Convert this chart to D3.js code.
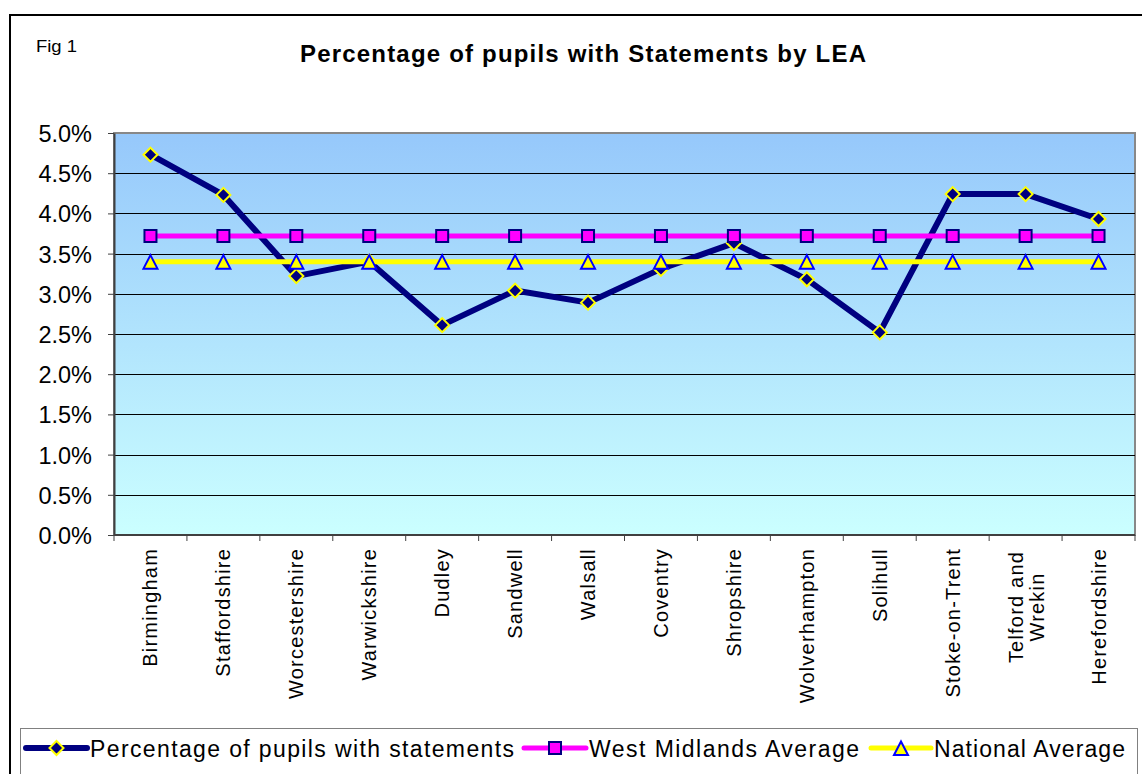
<!DOCTYPE html>
<html><head><meta charset="utf-8">
<script src="https://cdn.jsdelivr.net/npm/d3@7"></script>
<style>body{margin:0;background:#fff}svg{display:block;font-family:"Liberation Sans",Arial,sans-serif}</style>
</head><body><svg id="c" width="1142" height="774"></svg>
<script>
const categories = ["Birmingham","Staffordshire","Worcestershire","Warwickshire","Dudley","Sandwell","Walsall","Coventry","Shropshire","Wolverhampton","Solihull","Stoke-on-Trent","Telford and\nWrekin","Herefordshire"];
const pupilsPct = [4.73,4.23,3.22,3.40,2.61,3.04,2.89,3.31,3.63,3.18,2.52,4.24,4.24,3.93];
const westMidlandsAvg = [3.72,3.72,3.72,3.72,3.72,3.72,3.72,3.72,3.72,3.72,3.72,3.72,3.72,3.72];
const nationalAvg = [3.40,3.40,3.40,3.40,3.40,3.40,3.40,3.40,3.40,3.40,3.40,3.40,3.40,3.40];
const yTicks = [0,0.5,1,1.5,2,2.5,3,3.5,4,4.5,5];
const seriesNames = ["Percentage of pupils with statements","West Midlands Average","National Average"];

const svg = d3.select("#c");
const L=114, T=133, R=1135, B=535;
const x = d3.scalePoint().domain(categories).range([L,R]).padding(0.5);
const xb = d3.scaleBand().domain(categories).range([L,R]);
const y = d3.scaleLinear().domain([0,5]).range([B,T]);

// outer border
svg.append("rect").attr("x",10).attr("y",15).attr("width",1140).attr("height",770).attr("fill","#fff").attr("stroke","#000").attr("stroke-width",2);

const defs = svg.append("defs");
const g = defs.append("linearGradient").attr("id","bg").attr("x1",0).attr("y1",0).attr("x2",0).attr("y2",1);
g.append("stop").attr("offset",0).attr("stop-color","#96c8fb");
g.append("stop").attr("offset",1).attr("stop-color","#cbffff");
svg.append("rect").attr("x",L).attr("y",T).attr("width",R-L).attr("height",B-T).attr("fill","url(#bg)").attr("stroke","#888").attr("stroke-width",2);

// gridlines
svg.append("g").selectAll("line").data(yTicks.filter(d=>d>0&&d<5)).join("line")
  .attr("x1",L).attr("x2",R).attr("y1",d=>Math.round(y(d))+0.5).attr("y2",d=>Math.round(y(d))+0.5)
  .attr("stroke","#000").attr("stroke-width",1);

// y axis
const ya = svg.append("g").attr("transform",`translate(${L},0)`)
  .call(d3.axisLeft(y).tickValues(yTicks).tickFormat(d=>d.toFixed(1)+"%").tickSize(6).tickSizeOuter(0).tickPadding(16));
ya.attr("font-size",null).attr("font-family",null);
ya.select(".domain").attr("stroke","#404040").attr("stroke-width",2);
ya.selectAll(".tick line").attr("stroke","#404040");
ya.selectAll("text").style("font-size","23.5px").attr("fill","#000").attr("dy","0.36em");

// x axis
const xa = svg.append("g").attr("transform",`translate(0,${B})`);
xa.append("line").attr("x1",L).attr("x2",R).attr("y1",0).attr("y2",0).attr("stroke","#404040").attr("stroke-width",2);
const bounds = categories.map(c=>xb(c)).concat([R]);
xa.selectAll("line.tk").data(bounds).join("line").attr("class","tk")
  .attr("x1",d=>d).attr("x2",d=>d).attr("y1",0).attr("y2",6).attr("stroke","#404040");
categories.forEach(c=>{
  const lines = c.split("\n");
  const n=lines.length;
  const t = xa.append("text").style("font-size","20px").style("letter-spacing","1.2px").attr("fill","#000");
  if(n===1){
    t.attr("transform",`translate(${x(c)},13) rotate(-90)`).attr("text-anchor","end");
    t.append("tspan").attr("x",0).attr("dy","7px").text(lines[0]);
  } else {
    t.attr("transform",`translate(${x(c)},13) rotate(-90)`).attr("text-anchor","middle");
    lines.forEach((ln,i)=>{
      t.append("tspan").attr("x",-59).attr("dy", i===0 ? "-3px" : "21px").text(ln);
    });
  }
});

// series
const line = d3.line().x((d,i)=>x(categories[i])).y(d=>y(d));
function diamond(sel){ sel.attr("d","M0,-7L7,0L0,7L-7,0Z").attr("fill","#000080").attr("stroke","#ffff00").attr("stroke-width",2); }
function square(sel){ sel.attr("d","M-6,-6H6V6H-6Z").attr("fill","#ff00ff").attr("stroke","#000080").attr("stroke-width",2); }
function tri(sel){ sel.attr("d","M0,-7.5L7,6H-7Z").attr("fill","#ffff00").attr("stroke","#0000ff").attr("stroke-width",2); }

svg.append("path").datum(pupilsPct).attr("d",line).attr("fill","none").attr("stroke","#000080").attr("stroke-width",6).attr("stroke-linejoin","round");
svg.append("g").selectAll("path").data(pupilsPct).join("path").attr("transform",(d,i)=>`translate(${x(categories[i])},${y(d)})`).call(diamond);
svg.append("path").datum(westMidlandsAvg).attr("d",line).attr("fill","none").attr("stroke","#ff00ff").attr("stroke-width",5);
svg.append("g").selectAll("path").data(westMidlandsAvg).join("path").attr("transform",(d,i)=>`translate(${x(categories[i])},${y(d)})`).call(square);
svg.append("path").datum(nationalAvg).attr("d",line).attr("fill","none").attr("stroke","#ffff00").attr("stroke-width",5);
svg.append("g").selectAll("path").data(nationalAvg).join("path").attr("transform",(d,i)=>`translate(${x(categories[i])},${y(d)+1})`).call(tri);

// title
svg.append("text").attr("x",36).attr("y",52).style("font-size","17px").attr("textLength",41).attr("lengthAdjust","spacingAndGlyphs").text("Fig 1");
svg.append("text").attr("x",300).attr("y",62).style("font-size","24px").attr("font-weight","bold")
  .attr("textLength",566).attr("lengthAdjust","spacing").text("Percentage of pupils with Statements by LEA");

// legend
svg.append("rect").attr("x",20.5).attr("y",728.5).attr("width",1117).attr("height",60).attr("fill","#fff").attr("stroke","#808080").attr("stroke-width",1);
const legX = [26,524,871];
const legLen = [61,62,60];
const legTextW = [424,270,191];
const legCol = ["#000080","#ff00ff","#ffff00"];
const legW = [6,5,5];
const legMk = [diamond,square,tri];
seriesNames.forEach((s,i)=>{
  const lg = svg.append("g").attr("transform",`translate(${legX[i]},748)`);
  lg.append("line").attr("x1",0).attr("x2",legLen[i]).attr("stroke",legCol[i]).attr("stroke-width",legW[i]).attr("stroke-linecap","round");
  lg.append("path").attr("transform",`translate(${legLen[i]/2},${i===2?1:0})`).call(legMk[i]);
  lg.append("text").attr("x",legLen[i]+3).attr("y",9).style("font-size","23px")
    .attr("textLength",legTextW[i]).attr("lengthAdjust","spacing").text(s);
});
</script></body></html>
